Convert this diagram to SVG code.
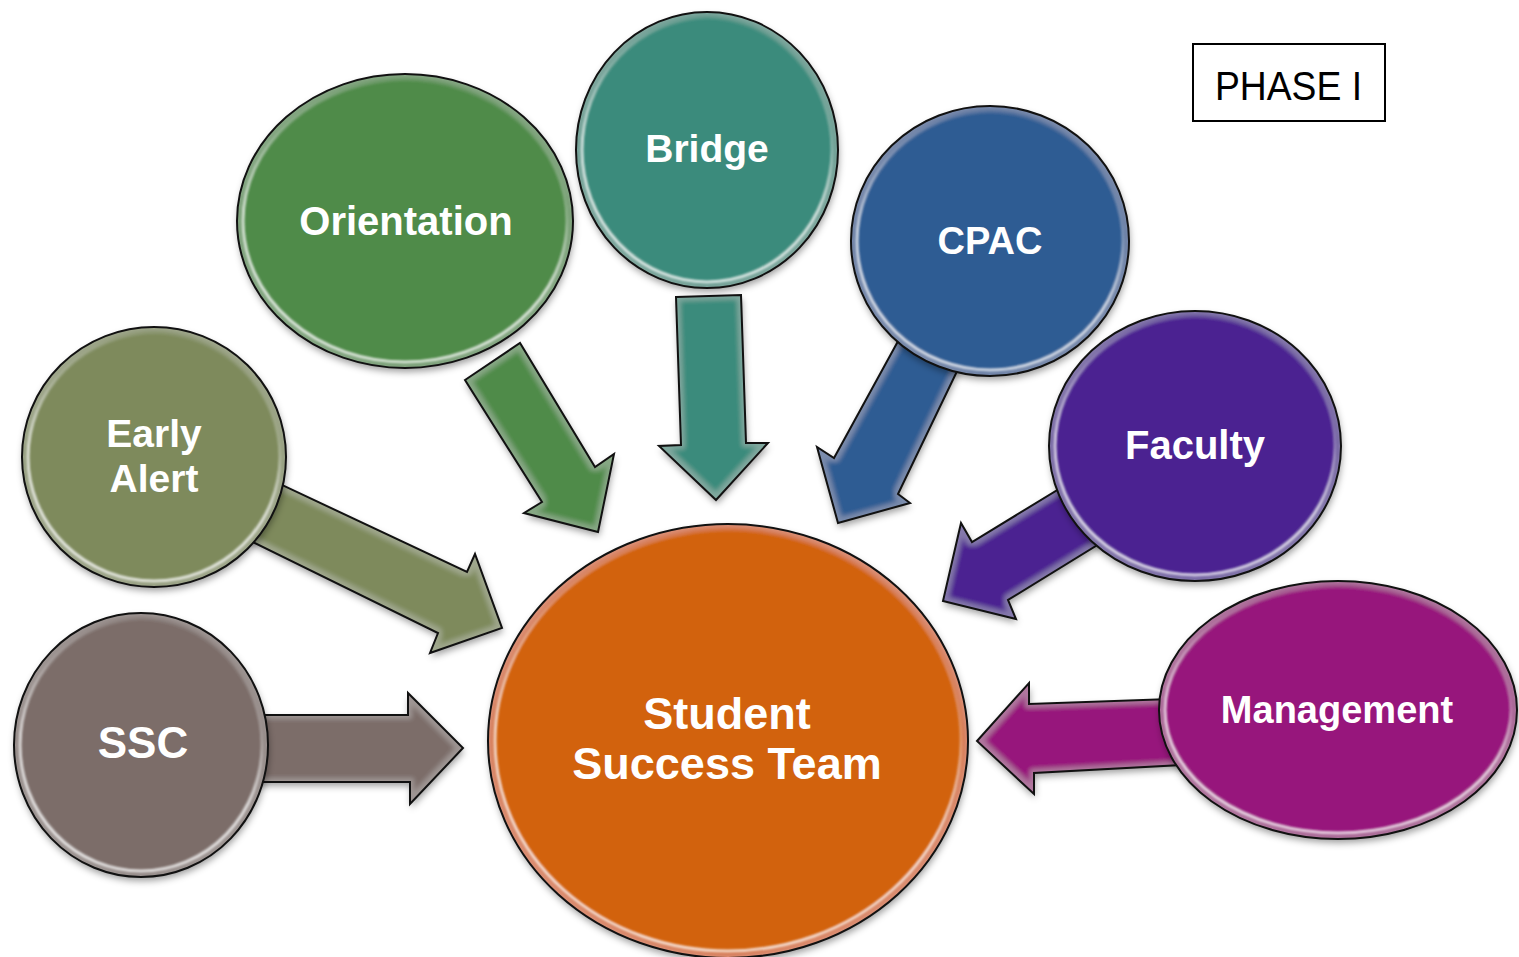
<svg xmlns="http://www.w3.org/2000/svg" xmlns:xlink="http://www.w3.org/1999/xlink" width="1519" height="957" viewBox="0 0 1519 957">
  <style>
    .lbl { font-family: "Liberation Sans", Arial, sans-serif; font-weight: bold; fill: #ffffff; text-anchor: middle; }
    .edge { fill: none; stroke: #111111; stroke-width: 2; stroke-linejoin: miter; }
    .body { filter: url(#bevel); }
    .rim { fill: none; stroke: url(#rimGrad); stroke-width: 3; filter: url(#soft); }
    .phase { font-family: "Liberation Sans", Arial, sans-serif; font-size: 40px; fill: #000000; }
  </style>
  <defs>
    <!-- soft shadow plus light inner edge, shared by every filled shape -->
    <filter id="bevel" x="-15%" y="-15%" width="135%" height="140%">
      <feMorphology in="SourceAlpha" operator="erode" radius="4" result="er"/>
      <feGaussianBlur in="er" stdDeviation="2.5" result="erb"/>
      <feComposite in="SourceAlpha" in2="erb" operator="out" result="band"/>
      <feFlood flood-color="#ffffff" flood-opacity="0.18"/>
      <feComposite in2="band" operator="in" result="hl"/>
      <feGaussianBlur in="SourceAlpha" stdDeviation="3.5" result="sb"/>
      <feOffset in="sb" dx="1" dy="4" result="so"/>
      <feFlood flood-color="#000000" flood-opacity="0.38"/>
      <feComposite in2="so" operator="in" result="shadow"/>
      <feMerge>
        <feMergeNode in="shadow"/>
        <feMergeNode in="SourceGraphic"/>
        <feMergeNode in="hl"/>
      </feMerge>
    </filter>
    <filter id="soft" x="-5%" y="-5%" width="110%" height="110%">
      <feGaussianBlur stdDeviation="0.9"/>
    </filter>
    <linearGradient id="rimGrad" x1="0.65" y1="0" x2="0.35" y2="1">
      <stop offset="0" stop-color="#ffffff" stop-opacity="0"/>
      <stop offset="0.3" stop-color="#ffffff" stop-opacity="0.2"/>
      <stop offset="0.6" stop-color="#ffffff" stop-opacity="0.7"/>
      <stop offset="1" stop-color="#ffffff" stop-opacity="0.75"/>
    </linearGradient>

    <!-- block arrow outlines -->
    <polygon id="arSSC" points="250,715 408,715 408,693 463,748 410,804 410,782 250,782"/>
    <polygon id="arEarly" points="246,468 467,572 475,554 502,628 430,653 438,633 218,525"/>
    <polygon id="arOrient" points="465,380 520,343 595,467 614,454 598,532 524,513 542,502"/>
    <polygon id="arBridge" points="676,297 741,295 746,443 768,443 716,500 659,446 681,445"/>
    <polygon id="arCPAC" points="914,312 834,458 817,447 838,523 910,503 898,494 973,338"/>
    <polygon id="arFaculty" points="1100,464 972,542 961,523 943,601 1016,619 1008,600 1138,520"/>
    <polygon id="arMgmt" points="1200,698 1029,704 1029,683 977,741 1034,794 1034,773 1200,764"/>
  </defs>

  <rect width="1519" height="957" fill="#ffffff"/>

  <g id="connectors">
    <use xlink:href="#arSSC" href="#arSSC" class="body" fill="#7b6d69"/>
    <use xlink:href="#arSSC" href="#arSSC" class="edge"/>
    <use xlink:href="#arEarly" href="#arEarly" class="body" fill="#7e8a5b"/>
    <use xlink:href="#arEarly" href="#arEarly" class="edge"/>
    <use xlink:href="#arOrient" href="#arOrient" class="body" fill="#4f8b4a"/>
    <use xlink:href="#arOrient" href="#arOrient" class="edge"/>
    <use xlink:href="#arBridge" href="#arBridge" class="body" fill="#3b8b7b"/>
    <use xlink:href="#arBridge" href="#arBridge" class="edge"/>
    <use xlink:href="#arCPAC" href="#arCPAC" class="body" fill="#2d5b93"/>
    <use xlink:href="#arCPAC" href="#arCPAC" class="edge"/>
    <use xlink:href="#arFaculty" href="#arFaculty" class="body" fill="#4b2291"/>
    <use xlink:href="#arFaculty" href="#arFaculty" class="edge"/>
    <use xlink:href="#arMgmt" href="#arMgmt" class="body" fill="#97177c"/>
    <use xlink:href="#arMgmt" href="#arMgmt" class="edge"/>
  </g>

  <g id="node-orientation">
    <ellipse cx="405" cy="221" rx="168" ry="147" class="body" fill="#4f8b4a"/>
    <ellipse cx="405" cy="221" rx="162" ry="141" class="rim"/>
    <ellipse cx="405" cy="221" rx="168" ry="147" class="edge"/>
    <text x="406" y="235" class="lbl" font-size="40">Orientation</text>
  </g>

  <g id="node-bridge">
    <ellipse cx="707" cy="150" rx="131" ry="138" class="body" fill="#3b8b7b"/>
    <ellipse cx="707" cy="150" rx="125" ry="132" class="rim"/>
    <ellipse cx="707" cy="150" rx="131" ry="138" class="edge"/>
    <text x="707" y="162" class="lbl" font-size="39">Bridge</text>
  </g>

  <g id="node-cpac">
    <ellipse cx="990" cy="241" rx="139" ry="135" class="body" fill="#2d5b93"/>
    <ellipse cx="990" cy="241" rx="133" ry="129" class="rim"/>
    <ellipse cx="990" cy="241" rx="139" ry="135" class="edge"/>
    <text x="990" y="254" class="lbl" font-size="38">CPAC</text>
  </g>

  <g id="node-faculty">
    <ellipse cx="1195" cy="446" rx="146" ry="135" class="body" fill="#4b2291"/>
    <ellipse cx="1195" cy="446" rx="140" ry="129" class="rim"/>
    <ellipse cx="1195" cy="446" rx="146" ry="135" class="edge"/>
    <text x="1195" y="459" class="lbl" font-size="40">Faculty</text>
  </g>

  <g id="node-management">
    <ellipse cx="1338" cy="710" rx="179" ry="129" class="body" fill="#97177c"/>
    <ellipse cx="1338" cy="710" rx="173" ry="123" class="rim"/>
    <ellipse cx="1338" cy="710" rx="179" ry="129" class="edge"/>
    <text x="1337" y="723" class="lbl" font-size="38">Management</text>
  </g>

  <g id="node-early-alert">
    <ellipse cx="154" cy="457" rx="132" ry="130" class="body" fill="#7e8a5b"/>
    <ellipse cx="154" cy="457" rx="126" ry="124" class="rim"/>
    <ellipse cx="154" cy="457" rx="132" ry="130" class="edge"/>
    <text x="154" y="447" class="lbl" font-size="39">Early</text>
    <text x="154" y="492" class="lbl" font-size="39">Alert</text>
  </g>

  <g id="node-ssc">
    <ellipse cx="141" cy="745" rx="127" ry="132" class="body" fill="#7b6d69"/>
    <ellipse cx="141" cy="745" rx="121" ry="126" class="rim"/>
    <ellipse cx="141" cy="745" rx="127" ry="132" class="edge"/>
    <text x="143" y="758" class="lbl" font-size="44">SSC</text>
  </g>

  <g id="node-student-success-team">
    <ellipse cx="728" cy="741" rx="240" ry="217" class="body" fill="#d2620f"/>
    <ellipse cx="728" cy="741" rx="233" ry="210" class="rim"/>
    <ellipse cx="728" cy="741" rx="240" ry="217" class="edge"/>
    <text x="727" y="729" class="lbl" font-size="45">Student</text>
    <text x="727" y="779" class="lbl" font-size="45">Success Team</text>
  </g>

  <g id="phase-label">
    <rect x="1193" y="44" width="192" height="77" fill="#ffffff" stroke="#000000" stroke-width="2"/>
    <text x="1215" y="100" class="phase" textLength="147" lengthAdjust="spacingAndGlyphs">PHASE I</text>
  </g>
</svg>
